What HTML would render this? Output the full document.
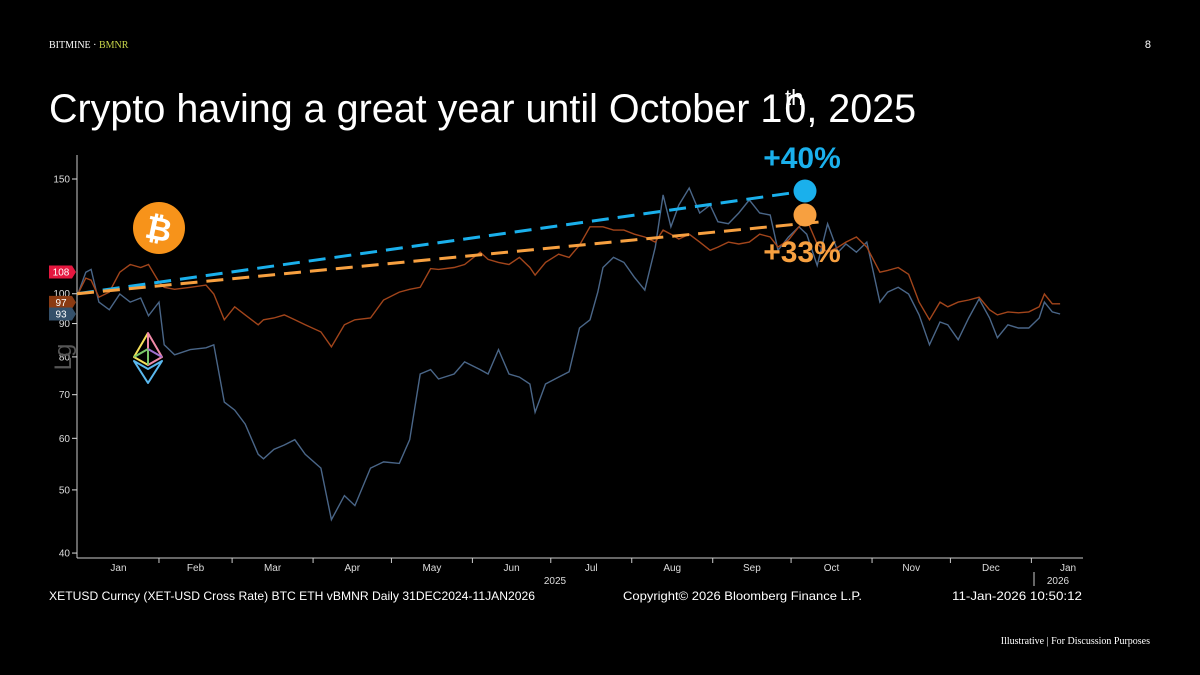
<!DOCTYPE html>
<html><head><meta charset="utf-8"><style>
html,body{margin:0;padding:0;background:#000;}
svg{display:block;font-family:"Liberation Sans",sans-serif;}
</style></head><body>
<svg id="c" width="1200" height="675" viewBox="0 0 1200 675">
<rect width="1200" height="675" fill="#000"/>
<text x="49" y="48" font-family="Liberation Serif,serif" font-size="10" fill="#fff">BITMINE · <tspan fill="#c8d64a">BMNR</tspan></text>
<text x="1151" y="48" font-size="11" fill="#fff" text-anchor="end">8</text>
<text x="49" y="122" font-size="39.5" fill="#fff">Crypto having a great year until October 1<tspan dx="2">0</tspan>, 2025</text>
<text x="785" y="105" font-size="22" fill="#fff">th</text>
<g id="axes"></g>
<g id="marks"></g>
<text x="1150" y="644" font-family="Liberation Serif,serif" font-size="10" fill="#fff" text-anchor="end">Illustrative  |  For Discussion Purposes</text>
</svg>
<script>
const days = [0,3,5,8,12,16,20,24,27,31,33,37,43,49,52,56,60,64,69,71,75,79,83,87,93,97,102,106,112,117,123,127,131,135,138,144,148,154,157,161,165,169,173,175,179,184,188,192,196,199,201,205,209,213,217,221,224,227,230,234,238,242,245,249,253,257,261,265,268,272,276,279,283,287,291,294,298,302,307,310,314,318,322,326,330,333,337,341,345,349,352,356,360,364,368,370,373,376];
const ethValues = [100,107.9,109,97.1,94.5,99.9,97.1,98.5,92.5,97.1,83.5,80.6,82.1,82.6,83.5,68.2,66.3,63.1,56.7,55.8,57.7,58.6,59.7,56.7,54,45,49,47.3,54,55.2,54.9,59.7,75.3,76.5,74,75.3,78.6,76.5,75.3,82.1,75.3,74.5,72.7,65.8,72.7,74.5,75.9,88.6,91.2,100.6,109.7,113.7,111.7,106,101.3,117.9,141.8,126.7,136.8,145.3,133,136.8,129,128.1,133,139.3,133,132.1,116.6,122.2,126.7,123.4,110.5,128.1,115.8,119.2,115.8,120,97.1,100.6,102.3,99.9,92.8,83.5,90.5,89.6,85,91.8,98.2,91.8,85.6,89.6,88.6,88.6,91.8,97.1,93.8,93.1];
const btcValues = [100,105.7,104.9,98.8,100.6,107.9,110.9,109.7,110.9,104.2,102.3,101.6,102.3,103.1,99.9,91.2,95.5,92.8,89.6,91.2,91.8,92.8,91.2,89.6,87.4,82.9,89.6,91.2,91.8,97.8,100.6,101.6,102.3,109.3,109,109.7,110.9,115.8,112.9,111.7,110.9,113.7,109.7,106.8,111.7,115,113.7,118.7,126.7,126.7,126.7,125.2,125.2,123.4,122.2,120,125.2,123.4,121.3,123.4,120,116.6,117.9,120,119.2,120,123.4,122.2,117.9,120.9,126.7,130,119.2,115.8,117.9,120,122.2,117.9,107.9,108.6,109.7,107.1,97.1,91.2,97.1,95.5,97.1,97.8,98.8,94.5,92.8,93.8,93.5,93.8,95.5,99.9,96.5,96.5];
const yTicks = [40,50,60,70,80,90,100,150];
const monthLabels = ["Jan","Feb","Mar","Apr","May","Jun","Jul","Aug","Sep","Oct","Nov","Dec","Jan"];
const monthStartDays = [0,31,59,90,120,151,181,212,243,273,304,334,365,396];
const trendBlue = [0,100,285,145];
const trendOrange = [0,100,285,129];

const NS="http://www.w3.org/2000/svg";
const X0=78, PXD=2.612;
function xs(d){return X0+d*PXD;}
function ys(v){return 179-283*Math.log(v/150);}
function mk(tag,attrs,parent,txt){const e=document.createElementNS(NS,tag);for(const k in attrs)e.setAttribute(k,attrs[k]);if(txt!==undefined)e.textContent=txt;parent.appendChild(e);return e;}
const ax=document.getElementById('axes'), mg=document.getElementById('marks');

let e=mk('line',{x1:77,y1:155,x2:77,y2:558,stroke:'#ccc','stroke-width':1},ax);


e=mk('line',{x1:77,y1:558,x2:1083,y2:558,stroke:'#ccc','stroke-width':1},ax);


yTicks.forEach(v=>{
  const y=ys(v);
  mk('line',{x1:72,y1:y,x2:77,y2:y,stroke:'#ddd'},ax);
  const t=mk('text',{x:70,y:y+3.5,'font-size':10,fill:'#ddd','text-anchor':'end'},ax,String(v));
  
  
});
for(let i=0;i<monthLabels.length;i++){
  const xt=xs(monthStartDays[i]);
  if(i>0) mk('line',{x1:xt,y1:558,x2:xt,y2:563,stroke:'#ccc'},ax);
  const xm = i==12 ? 1068 : (xs(monthStartDays[i])+xs(monthStartDays[i+1]))/2;
  const t=mk('text',{x:xm,y:571,'font-size':10,fill:'#ddd','text-anchor':'middle'},ax,monthLabels[i]);
  
  
}
e=mk('text',{x:555,y:584,'font-size':10,fill:'#ddd','text-anchor':'middle'},ax,'2025');


mk('line',{x1:1034,y1:572,x2:1034,y2:586,stroke:'#ccc'},ax);
e=mk('text',{x:1058,y:584,'font-size':10,fill:'#ddd','text-anchor':'middle'},ax,'2026');


e=mk('text',{x:0,y:0,'font-size':24,fill:'#555','text-anchor':'middle',transform:'translate(71,357) rotate(-90)'},ax,'Lg');



e=mk('text',{x:49,y:600,'font-size':12,fill:'#fff',textLength:486,lengthAdjust:'spacingAndGlyphs'},ax,'XETUSD Curncy (XET-USD Cross Rate) BTC ETH vBMNR Daily 31DEC2024-11JAN2026');


e=mk('text',{x:623,y:600,'font-size':12,fill:'#fff',textLength:239,lengthAdjust:'spacingAndGlyphs'},ax,'Copyright© 2026 Bloomberg Finance L.P.');


e=mk('text',{x:952,y:600,'font-size':12,fill:'#fff',textLength:130,lengthAdjust:'spacingAndGlyphs'},ax,'11-Jan-2026 10:50:12');



function series(vals,color,name){
  const d=vals.map((v,i)=>(i?'L':'M')+xs(days[i]).toFixed(1)+','+ys(v).toFixed(1)).join(' ');
  const p=mk('path',{d:d,fill:'none',stroke:color,'stroke-width':1.4},mg);
  
  
}
series(ethValues,'#4a6688','eth-line');
series(btcValues,'#a2451b','btc-line');

function trend(t,color,name){
  const l=mk('line',{x1:xs(t[0])-1,y1:ys(t[1]),x2:xs(t[2]),y2:ys(t[3]),stroke:color,'stroke-width':3,'stroke-dasharray':'17 9'},mg);
  
  
}
trend(trendBlue,'#1ab0ec','eth-trend-line');
trend(trendOrange,'#f7a040','btc-trend-line');

e=mk('circle',{cx:805,cy:191,r:11.5,fill:'#1ab0ec'},mg);


e=mk('circle',{cx:805,cy:215,r:11.5,fill:'#f7a040'},mg);


e=mk('text',{x:802,y:168,'font-size':30,'font-weight':'bold',fill:'#1ab0ec','text-anchor':'middle'},mg,'+40%');


e=mk('text',{x:802,y:262,'font-size':30,'font-weight':'bold',fill:'#f7a040','text-anchor':'middle'},mg,'+33%');



function tag(v,label,color,name){
  const y=ys(v);
  const g=mk('g',{},mg);
  
  
  mk('path',{d:`M49,${y-6.5} H72 L76,${y} L72,${y+6.5} H49 Z`,fill:color},g);
  mk('text',{x:61,y:y+3.5,'font-size':10,fill:'#fff','text-anchor':'middle'},g,label);
}
tag(108,'108','#e5173f','bmnr-last-value-tag');
tag(btcValues[btcValues.length-1]+0.5,'97','#8a3a12','btc-last-value-tag');
tag(ethValues[ethValues.length-1],'93','#34506a','eth-last-value-tag');

const bg=mk('g',{},mg);


mk('circle',{cx:159,cy:228,r:26,fill:'#f7931a'},bg);
mk('text',{x:159,y:240,'font-size':32,'font-weight':'bold',fill:'#fff','text-anchor':'middle',transform:'rotate(12 159 228)'},bg,'₿');
const eg=mk('g',{fill:'none','stroke-width':2,'stroke-linejoin':'round'},mg);


mk('path',{d:'M148,333 L134,357 L148,365',stroke:'#f5e05a'},eg);
mk('path',{d:'M148,333 L162,357 L148,365 Z',stroke:'#f08aa8'},eg);
mk('path',{d:'M134,357 L148,349 L148,365',stroke:'#7ac86a'},eg);
mk('path',{d:'M148,349 L162,357',stroke:'#a070d0'},eg);
mk('path',{d:'M134,361 L148,383 L162,361 L148,369 Z',stroke:'#5ab8ee'},eg);
</script>
</body></html>
